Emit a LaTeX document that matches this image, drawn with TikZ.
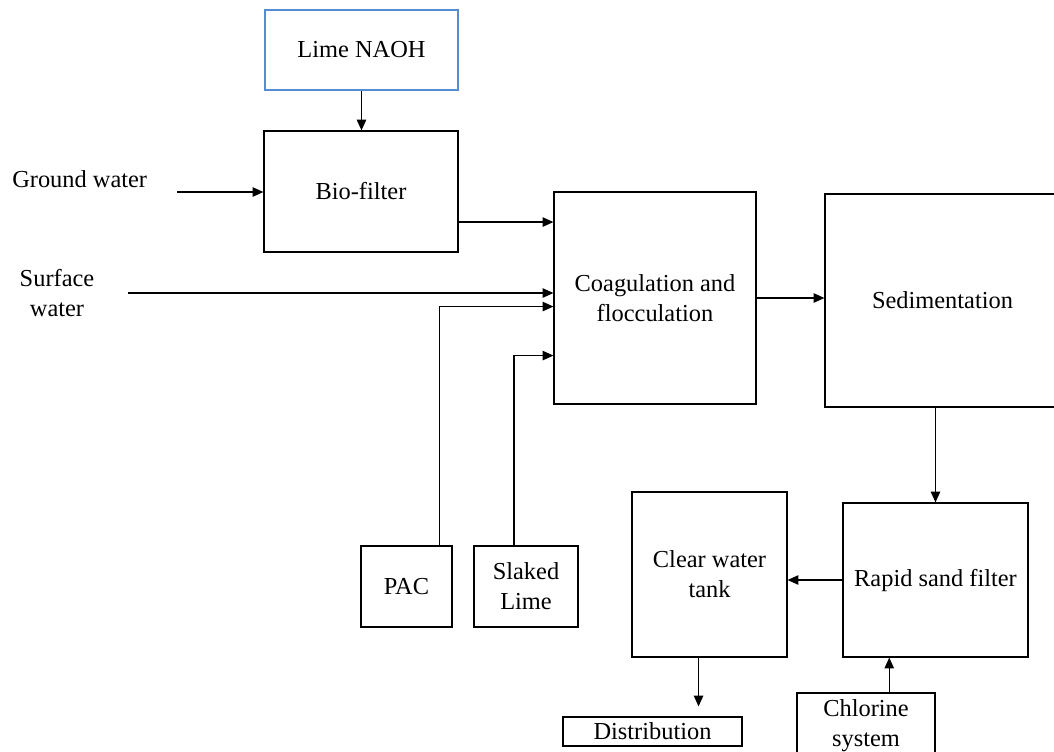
\documentclass[tikz,border=0pt]{standalone}
\usepackage{fontspec}
\setmainfont{Liberation Serif}
\usepackage{tikz}
\usetikzlibrary{arrows.meta, calc}
\definecolor{limeblue}{RGB}{84,141,212}
\tikzset{
    unit/.style={draw, line width=0.9pt, inner sep=2pt, align=center},
    flow/.style={-{Triangle[length=8pt, width=7pt]}, line width=0.9pt},
    label/.style={inner sep=0pt, align=center}
}

\begin{document}
\begin{tikzpicture}[x=0.75pt, y=-0.75pt, font=\fontsize{18.3}{22.5}\selectfont]
    \useasboundingbox (0,0) rectangle (1054,751);
    % Treatment units
    \node[unit, draw=limeblue, minimum width=144.75pt, minimum height=60pt] (lime) at (361.5,50) {Lime NAOH};
    \node[unit, minimum width=145.5pt, minimum height=90.75pt] (bio) at (361,191.5) {Bio-filter};
    \node[unit, minimum width=151.5pt, minimum height=159pt] (coag) at (655,298) {Coagulation and\\flocculation};
    \node[unit, minimum width=176.25pt, minimum height=159.75pt] (sed) at (942.5,300.5) {Sedimentation};
    \node[unit, minimum width=138.75pt, minimum height=115.5pt] (rsf) at (935.5,580) {Rapid sand filter};
    \node[unit, minimum width=116.25pt, minimum height=123.75pt] (cwt) at (709.5,574.5) {Clear water\\tank};
    \node[unit, minimum width=134.25pt, minimum height=21.75pt] (dist) at (652.5,731.5) {Distribution};
    \node[unit, minimum width=103.5pt, minimum height=48.75pt] (chl) at (866,725.5) {Chlorine\\system};
    \node[unit, minimum width=68.25pt, minimum height=60.75pt] (pac) at (406.5,586.5) {PAC};
    \node[unit, minimum width=78pt, minimum height=60.75pt] (slk) at (526,586.5) {Slaked\\Lime};
    % Raw water sources
    \node[label, anchor=base west] (gw) at (12,187) {Ground water};
    \node[label] (sw) at (57,293.5) {Surface\\water};
    \coordinate (gwin) at (177,192);
    \coordinate (swin) at (128,293);
    % Connector ends on the unit sides
    \coordinate (bioout) at ($(bio.north east)!.75!(bio.south east)$);
    \coordinate (pacout) at ($(pac.north west)!.857!(pac.north east)$);
    \coordinate (pacin) at ($(coag.north west)!.54!(coag.south west)$);
    \coordinate (slkout) at ($(slk.north west)!.385!(slk.north east)$);
    \coordinate (slkin) at ($(coag.north west)!.77!(coag.south west)$);
    \coordinate (cwtout) at ($(cwt.south west)!.43!(cwt.south east)$);
    \coordinate (chlout) at ($(chl.north west)!.667!(chl.north east)$);
    % Connectors
    \draw[flow] (lime.south) -- (lime.south |- bio.north);
    \draw[flow] (gwin) -- (gwin -| bio.west);
    \draw[flow] (bioout) -- (bioout -| coag.west);
    \draw[flow] (swin) -- (swin -| coag.west);
    \draw[flow] (pacout) |- (pacin);
    \draw[flow] (slkout) |- (slkin);
    \draw[flow] (coag.east) -- (coag.east -| sed.west);
    \draw[flow] (rsf.north |- sed.south) -- (rsf.north);
    \draw[flow] (rsf.west) -- (rsf.west -| cwt.east);
    \draw[flow, shorten >=7.5pt] (cwtout) -- (cwtout |- dist.north);
    \draw[flow] (chlout) -- (chlout |- rsf.south);
\end{tikzpicture}
\end{document}
